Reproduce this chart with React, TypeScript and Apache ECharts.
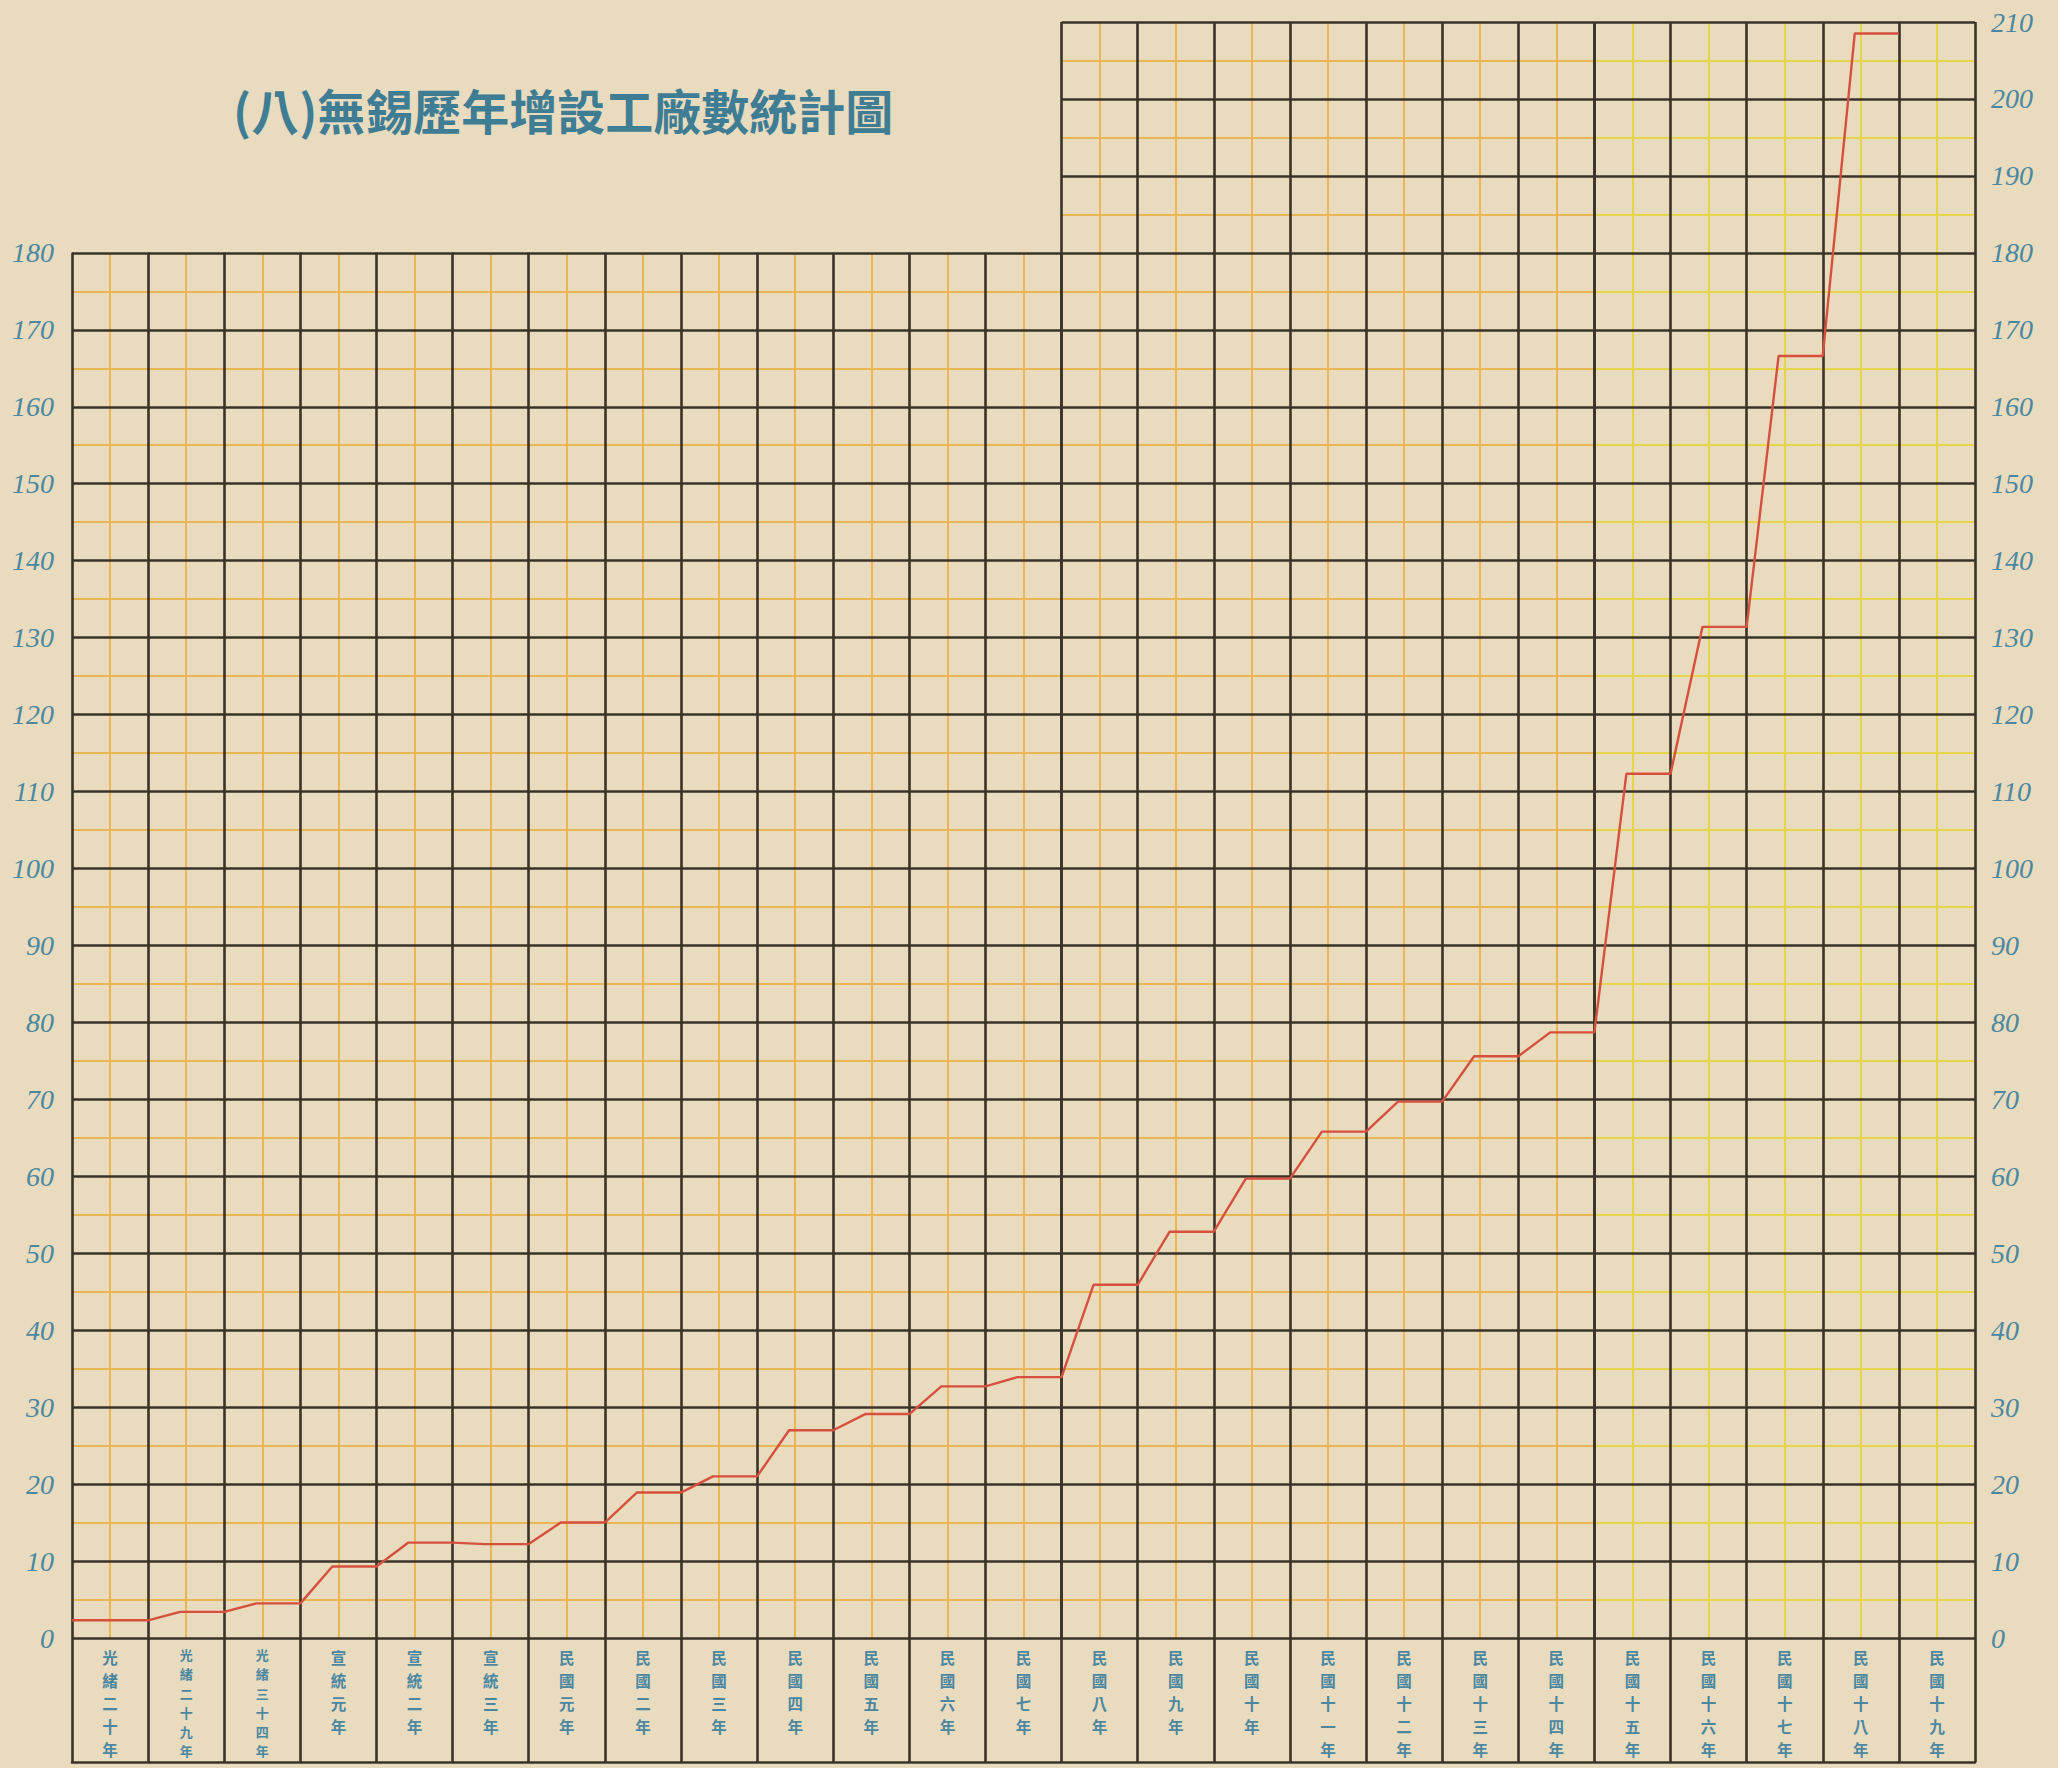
import React, { useEffect, useRef } from "react";
import * as echarts from "echarts";

// ---- data ----
const titleText = "(八)無錫歷年增設工廠數統計圖";
const categories = [
  "光緒二十年", "光緒二十九年", "光緒三十四年",
  "宣統元年", "宣統二年", "宣統三年",
  "民國元年", "民國二年", "民國三年", "民國四年", "民國五年", "民國六年", "民國七年",
  "民國八年", "民國九年", "民國十年", "民國十一年", "民國十二年", "民國十三年",
  "民國十四年", "民國十五年", "民國十六年", "民國十七年", "民國十八年", "民國十九年",
];
const factoryCounts = [
  2.3, 3.4, 4.5, 9.3, 12.4, 12.2, 15.0, 18.9, 21.0, 27.0, 29.1, 32.7, 33.9,
  45.9, 52.8, 59.7, 65.8, 69.7, 75.6, 78.7, 112.3, 131.4, 166.6, 208.5,
];
const leftAxisMax = 180;
const rightAxisMax = 210;
const tickStep = 10;

// ---- layout / style ----
const W = 2058, H = 1768;
const X0 = 72, X1 = 1975;
const Y0 = 1638, YTOP = 22, YBOT = 1762;
const NCOL = categories.length;
const colW = (X1 - X0) / NCOL;
const unit = (Y0 - YTOP) / rightAxisMax;
const SPLIT1 = 13;
const SPLIT2 = 20;

const DARK = "#3a3327";
const ORANGE = "#eab552";
const YELLOW = "#e6d44a";
const BLUE = "#4b87a1";
const RED = "#d6503d";
const PAPER = "#e8dbbe";

function stepPoints(vals: number[]) {
  const pts: number[][] = [];
  vals.forEach((v, i) => {
    if (i === 0) pts.push([0, v]);
    else pts.push([i + 0.42, v]);
    pts.push([i + 1, v]);
  });
  return pts;
}

export default function App() {
  const ref = useRef<HTMLDivElement>(null);
  useEffect(() => {
    if (!ref.current) return;
    const chart = echarts.init(ref.current, undefined, { renderer: "svg" });

    const grids = [
      { left: X0, top: Y0 - leftAxisMax * unit, width: SPLIT1 * colW, height: leftAxisMax * unit },
      { left: X0 + SPLIT1 * colW, top: YTOP, width: (SPLIT2 - SPLIT1) * colW, height: rightAxisMax * unit },
      { left: X0 + SPLIT2 * colW, top: YTOP, width: (NCOL - SPLIT2) * colW, height: rightAxisMax * unit },
      { left: X0, top: YTOP, width: NCOL * colW, height: rightAxisMax * unit },
      { left: X0, top: Y0, width: NCOL * colW, height: YBOT - Y0 },
    ];

    const hidden = { axisLabel: { show: false }, axisLine: { show: false }, axisTick: { show: false } };
    const minorX = (gi: number, min: number, max: number, color: string) => ({
      type: "value", gridIndex: gi, min, max, interval: 1, z: 0, ...hidden,
      splitLine: { show: false },
      minorTick: { show: false, splitNumber: 2 },
      minorSplitLine: { show: true, lineStyle: { color, width: 2 } },
    });
    const majorX = (gi: number, min: number, max: number) => ({
      type: "value", gridIndex: gi, min, max, interval: 1, z: 2, ...hidden,
      splitLine: { show: true, lineStyle: { color: DARK, width: 2.6 } },
    });
    const minorY = (gi: number, max: number, color: string) => ({
      type: "value", gridIndex: gi, min: 0, max, interval: tickStep, z: 0, ...hidden,
      splitLine: { show: false },
      minorTick: { show: false, splitNumber: 2 },
      minorSplitLine: { show: true, lineStyle: { color, width: 2 } },
    });
    const majorY = (gi: number, max: number, extra: any = {}) => ({
      type: "value", gridIndex: gi, min: 0, max, interval: tickStep, z: 2, ...hidden,
      splitLine: { show: true, lineStyle: { color: DARK, width: 2.6 } },
      ...extra,
    });
    const tickLabel = {
      show: true,
      color: BLUE,
      fontFamily: "Liberation Serif",
      fontStyle: "italic",
      fontSize: 28,
    };

    const xAxis: any[] = [
      minorX(0, 0, SPLIT1, ORANGE), majorX(0, 0, SPLIT1),
      minorX(1, SPLIT1, SPLIT2, ORANGE), majorX(1, SPLIT1, SPLIT2),
      minorX(2, SPLIT2, NCOL, YELLOW), majorX(2, SPLIT2, NCOL),
      { type: "value", gridIndex: 3, min: 0, max: NCOL, ...hidden, splitLine: { show: false } },
      {
        type: "category", gridIndex: 3, data: categories, position: "bottom",
        boundaryGap: true, axisLine: { show: false }, axisTick: { show: false },
        splitLine: { show: false },
        axisLabel: {
          show: true, interval: 0, margin: 7, verticalAlign: "top",
          formatter: (s: string) => {
            const chars = s.split("").join("\n");
            return s.length > 5 ? `{s|${chars}}` : `{n|${chars}}`;
          },
          rich: {
            n: { color: BLUE, fontSize: 15.5, lineHeight: 23, fontWeight: "bold", fontFamily: "Noto Sans CJK TC" },
            s: { color: BLUE, fontSize: 13, lineHeight: 19.2, fontWeight: "bold", fontFamily: "Noto Sans CJK TC" },
          },
        },
      },
      {
        type: "value", gridIndex: 4, min: 0, max: NCOL, interval: 1, position: "bottom",
        axisLabel: { show: false }, axisTick: { show: false },
        axisLine: { show: true, lineStyle: { color: DARK, width: 2.6 } },
        splitLine: { show: true, lineStyle: { color: DARK, width: 2.6 } },
      },
    ];

    const yAxis: any[] = [
      minorY(0, leftAxisMax, ORANGE),
      majorY(0, leftAxisMax, { position: "left", axisLabel: { ...tickLabel, margin: 18 } }),
      minorY(1, rightAxisMax, ORANGE), majorY(1, rightAxisMax),
      minorY(2, rightAxisMax, YELLOW),
      majorY(2, rightAxisMax, { position: "right", axisLabel: { ...tickLabel, margin: 16 } }),
      { type: "value", gridIndex: 3, min: 0, max: rightAxisMax, ...hidden, splitLine: { show: false } },
      { type: "value", gridIndex: 4, min: 0, max: 1, ...hidden, splitLine: { show: false } },
    ];

    chart.setOption({
      animation: false,
      backgroundColor: PAPER,
      title: {
        text: titleText,
        left: 228,
        top: 80,
        textStyle: {
          color: "#3f7d95",
          fontSize: 48,
          fontWeight: "bold",
          fontFamily: "Noto Sans CJK TC",
        },
      },
      grid: grids,
      xAxis,
      yAxis,
      series: [
        {
          type: "line",
          xAxisIndex: 6,
          yAxisIndex: 6,
          data: stepPoints(factoryCounts),
          symbol: "none",
          z: 10,
          lineStyle: { color: RED, width: 2.4 },
        },
      ],
    });
    return () => chart.dispose();
  }, []);
  return (
    <div
      ref={ref}
      style={{ position: "absolute", left: 0, top: 0, width: W, height: H }}
    />
  );
}
